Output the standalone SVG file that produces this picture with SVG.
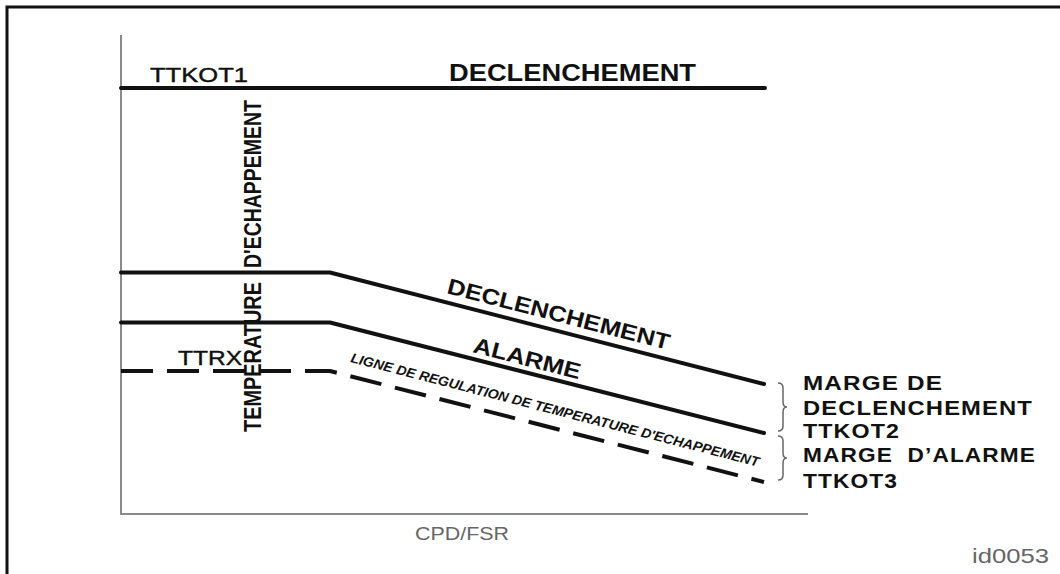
<svg xmlns="http://www.w3.org/2000/svg" width="1060" height="574" viewBox="0 0 1060 574">
  <style>
    .frame{fill:none;stroke:#111;stroke-width:3}
    .axis{fill:none;stroke:#8a8a8a;stroke-width:2}
    .lim{fill:none;stroke:#111;stroke-width:4;stroke-linecap:round;stroke-linejoin:round}
    .dash{stroke-dasharray:32 14;stroke-linecap:butt}
    .brace{fill:none;stroke:#666;stroke-width:1.5}
    text{font-family:"Liberation Sans",Arial,Helvetica,sans-serif;fill:#111}
    .b{font-weight:bold}
    .grey{fill:#666}
    .thick{stroke:#111;stroke-width:0.4}
  </style>
  <rect width="1060" height="574" fill="#fff"/>

  <!-- page frame -->
  <path class="frame" d="M7,574 V7 H1060"/>

  <!-- axes -->
  <g id="axes">
    <path class="axis" d="M121,35 V514 H808"/>
    <text class="grey" x="415" y="540" font-size="18" textLength="94" lengthAdjust="spacingAndGlyphs">CPD/FSR</text>
    <text class="b" transform="translate(261,432) rotate(-90)" font-size="24" textLength="150" lengthAdjust="spacingAndGlyphs">TEMPERATURE</text>
    <text class="b" transform="translate(261,268) rotate(-90)" font-size="24" textLength="168" lengthAdjust="spacingAndGlyphs">D'ECHAPPEMENT</text>
  </g>

  <!-- limit curves -->
  <g id="connectors">
    <path class="lim" d="M121,88 H765"/>
    <path class="lim" d="M121,272.5 H330 L764,384"/>
    <path class="lim" d="M121,322.5 H330 L764,433"/>
    <path class="lim dash" d="M121,371 H330 L764,482"/>
  </g>

  <g id="trip-fixed">
    <text class="thick" x="150" y="82" font-size="20" textLength="98" lengthAdjust="spacingAndGlyphs">TTKOT1</text>
    <text class="b" x="449" y="81" font-size="23" textLength="247" lengthAdjust="spacingAndGlyphs">DECLENCHEMENT</text>
  </g>

  <g id="trip-slope">
    <text class="b" transform="translate(446,293) rotate(14.4)" font-size="22" textLength="229" lengthAdjust="spacingAndGlyphs">DECLENCHEMENT</text>
  </g>

  <g id="alarm-slope">
    <text class="b" transform="translate(472,352) rotate(14.4)" font-size="22" textLength="110" lengthAdjust="spacingAndGlyphs">ALARME</text>
  </g>

  <g id="control-line">
    <text class="thick" x="178" y="365" font-size="20" textLength="64" lengthAdjust="spacingAndGlyphs">TTRX</text>
    <text class="b" font-style="italic" transform="translate(350,362) rotate(14.4)" font-size="13.5" textLength="421" lengthAdjust="spacingAndGlyphs">LIGNE DE REGULATION DE TEMPERATURE D'ECHAPPEMENT</text>
  </g>

  <!-- margin braces and labels -->
  <g id="margins">
    <path class="brace" d="M778,383 q5,0 5,5 v14 q0,5 4,5 q-4,0 -4,5 v14 q0,5 -5,5"/>
    <path class="brace" d="M778,436 q5,0 5,5 v12 q0,5 4,5 q-4,0 -4,5 v12 q0,5 -5,5"/>
    <text class="b" x="803" y="390" font-size="21" letter-spacing="1" textLength="140" lengthAdjust="spacingAndGlyphs">MARGE DE</text>
    <text class="b" x="803" y="415" font-size="21" letter-spacing="1" textLength="230" lengthAdjust="spacingAndGlyphs">DECLENCHEMENT</text>
    <text class="b" x="803" y="438" font-size="21" letter-spacing="1" textLength="97" lengthAdjust="spacingAndGlyphs">TTKOT2</text>
    <text class="b" x="803" y="462" font-size="21" letter-spacing="1" textLength="233" lengthAdjust="spacingAndGlyphs" style="white-space:pre">MARGE  D’ALARME</text>
    <text class="b" x="803" y="488" font-size="21" letter-spacing="1" textLength="95" lengthAdjust="spacingAndGlyphs">TTKOT3</text>
  </g>

  <text id="ref" class="grey" x="972" y="563" font-size="20" textLength="77" lengthAdjust="spacingAndGlyphs">id0053</text>
</svg>
